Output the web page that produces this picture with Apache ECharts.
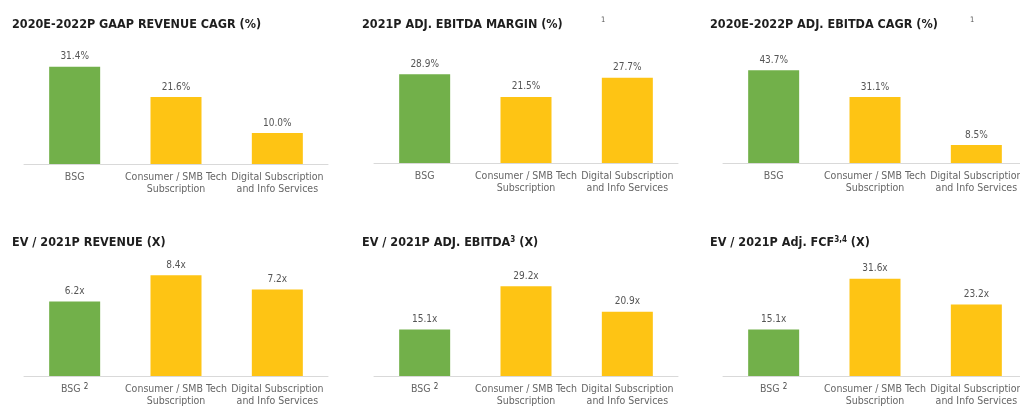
<!DOCTYPE html>
<html lang="en">
	<head>
		<meta charset="UTF-8" />
		<title>Peer comparison</title>
		<script src="https://cdn.jsdelivr.net/npm/echarts@6.0.0/dist/echarts.min.js"></script>
		<style>
			body { margin: 0; background: #fff; }
		</style>
	</head>
	<body>
		<div id="main" style="width: 1020px; height: 406px"></div>
		<script type="text/javascript">
			const categories = ["BSG", "Consumer / SMB Tech\nSubscription", "Digital Subscription\nand Info Services"];
			const revenueCagr = [31.4, 21.6, 10.0];
			const ebitdaMargin = [28.9, 21.5, 27.7];
			const ebitdaCagr = [43.7, 31.1, 8.5];
			const evRevenue = [6.2, 8.4, 7.2];
			const evEbitda = [15.1, 29.2, 20.9];
			const evFcf = [15.1, 31.6, 23.2];

			const green = "#72b04a";
			const yellow = "#fec414";
			const font = "DejaVu Sans Condensed";

			// one entry per small chart: data, suffix, title, axis max, position
			const panels = [
				{ data: revenueCagr, unit: "%", title: "2020E-2022P GAAP REVENUE CAGR (%)", max: 40, left: 24, top: 40, height: 124, note: false },
				{ data: ebitdaMargin, unit: "%", title: "2021P ADJ. EBITDA MARGIN (%)", max: 40, left: 374, top: 40, height: 123, note: false },
				{ data: ebitdaCagr, unit: "%", title: "2020E-2022P ADJ. EBITDA CAGR (%)", max: 58, left: 723, top: 40, height: 123, note: false },
				{ data: evRevenue, unit: "x", title: "EV / 2021P REVENUE (X)", max: 10, left: 24, top: 256, height: 120, note: true },
				{ data: evEbitda, unit: "x", title: "EV / 2021P ADJ. EBITDA{s|3} (X)", max: 39, left: 374, top: 256, height: 120, note: true },
				{ data: evFcf, unit: "x", title: "EV / 2021P Adj. FCF{s|3,4} (X)", max: 39, left: 723, top: 256, height: 120, note: true },
			];

			const titleY = [18, 18, 18, 236, 236, 236];
			const titleX = [12, 362, 710, 12, 362, 710];

			const titles = panels.map((p, i) => ({
				text: p.title,
				left: titleX[i],
				top: titleY[i],
				padding: 0,
				textStyle: {
					fontFamily: font,
					fontSize: 12.5,
					fontWeight: "bold",
					color: "#1e1e1e",
					rich: {
						s: { fontFamily: font, fontSize: 8, fontWeight: "bold", color: "#1e1e1e", verticalAlign: "top", padding: [0, 0, 6, 0] },
					},
				},
			}));
			// footnote markers next to the top middle / right titles
			titles.push({ text: "1", left: 601, top: 16, padding: 0, textStyle: { fontFamily: font, fontSize: 7.5, color: "#555", fontWeight: "normal" } });
			titles.push({ text: "1", left: 970, top: 16, padding: 0, textStyle: { fontFamily: font, fontSize: 7.5, color: "#555", fontWeight: "normal" } });

			const chart = echarts.init(document.getElementById("main"));
			chart.setOption({
				animation: false,
				backgroundColor: "#fff",
				title: titles,
				grid: panels.map((p) => ({ left: p.left, top: p.top, width: 304, height: p.height, outerBoundsMode: "none", containLabel: false })),
				xAxis: panels.map((p, i) => ({
					type: "category",
					gridIndex: i,
					data: categories,
					axisLine: { lineStyle: { color: "#d9d9d9", width: 1 } },
					axisTick: { show: false },
					axisLabel: {
						interval: 0,
						margin: 7,
						fontFamily: font,
						fontSize: 10.5,
						lineHeight: 12,
						color: "#666",
						formatter: (v) => (p.note && v === "BSG" ? "BSG {s|2}" : v),
						rich: { s: { fontFamily: font, fontSize: 8, color: "#444", verticalAlign: "top", padding: [0, 0, 6, 0] } },
					},
				})),
				yAxis: panels.map((p, i) => ({
					type: "value",
					gridIndex: i,
					min: 0,
					max: p.max,
					show: false,
					splitLine: { show: false },
				})),
				series: panels.map((p, i) => ({
					type: "bar",
					xAxisIndex: i,
					yAxisIndex: i,
					barWidth: 51,
					data: p.data.map((v, j) => ({ value: v, itemStyle: { color: j === 0 ? green : yellow } })),
					label: {
						show: true,
						position: "top",
						distance: 5,
						fontFamily: font,
						fontSize: 10,
						color: "#555",
						formatter: (d) => d.value.toFixed(1) + p.unit,
					},
				})),
			});
		</script>
	</body>
</html>
